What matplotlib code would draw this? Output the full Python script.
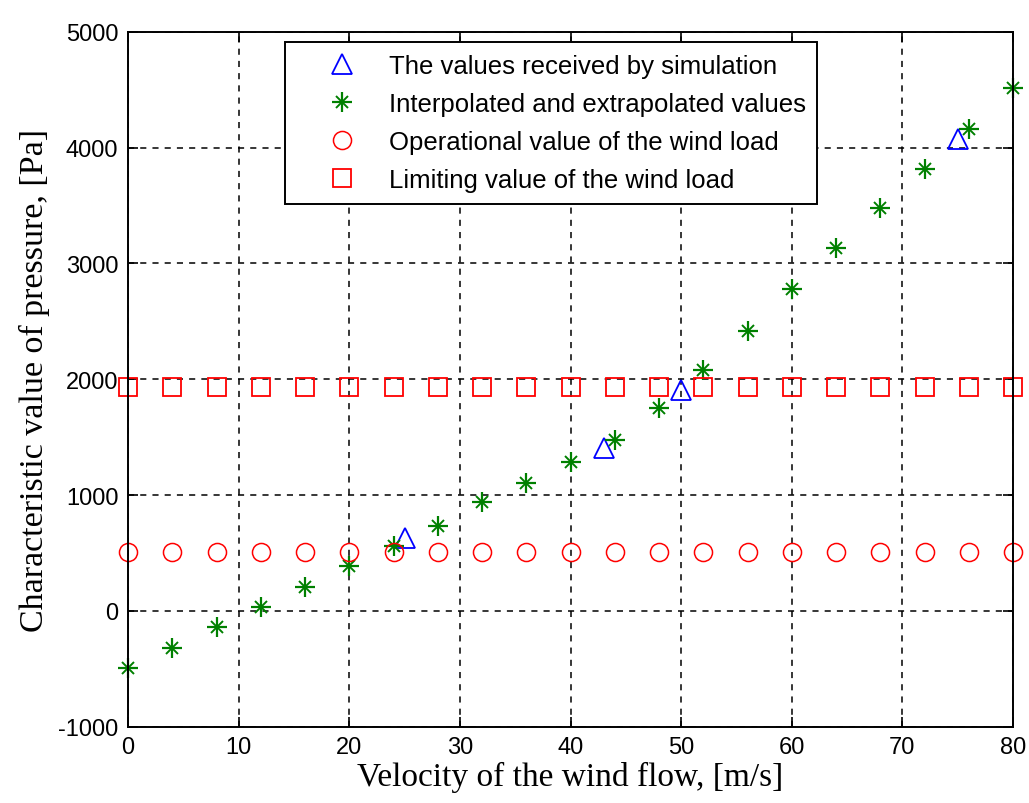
import matplotlib
matplotlib.use("Agg")
from matplotlib import pyplot as plt
from matplotlib.legend_handler import HandlerTuple

plt.rcParams["axes.unicode_minus"] = False

# simulated points
sim_x = [25, 43, 50, 75]
sim_y = [625, 1410, 1910, 4075]

# interpolated / extrapolated points
interp_x = [0, 4, 8, 12, 16, 20, 24, 28, 32, 36, 40, 44, 48, 52, 56, 60, 64, 68, 72, 76, 80]
interp_y = [-490, -320, -135, 35, 210, 390, 560, 735, 940, 1105, 1285,
            1475, 1755, 2080, 2420, 2780, 3130, 3475, 3815, 4160, 4510]

# wind load levels
load_x = interp_x
oper_y = [510, 510, 510, 510, 510, 510, 510, 510, 510, 510, 510,
          510, 510, 510, 510, 510, 510, 510, 510, 510, 510]
limit_y = [1930, 1930, 1930, 1930, 1930, 1930, 1930, 1930, 1930, 1930, 1930,
           1930, 1930, 1930, 1930, 1930, 1930, 1930, 1930, 1930, 1930]

x_ticks = [0, 10, 20, 30, 40, 50, 60, 70, 80]
y_ticks = [-1000, 0, 1000, 2000, 3000, 4000, 5000]

green = (0, 0.5, 0)

fig = plt.figure(figsize=(10.29, 8.04), dpi=100)
ax = fig.add_axes([0.1244, 0.0949, 0.8601, 0.8644])

h_sim, = ax.plot(sim_x, sim_y, "^", ms=14, mfc="none", mec="blue", mew=1.3, ls="none")
h_plus, = ax.plot(interp_x, interp_y, "+", ms=15, mec=green, mew=1.6, ls="none")
h_x, = ax.plot(interp_x, interp_y, "x", ms=8, mec=green, mew=1.4, ls="none")
h_oper, = ax.plot(load_x, oper_y, "o", ms=13, mfc="none", mec="red", mew=1.1, ls="none")
h_lim, = ax.plot(load_x, limit_y, "s", ms=13, mfc="none", mec="red", mew=1.3, ls="none")

for h in (h_sim, h_plus, h_x, h_oper, h_lim):
    h.set_clip_on(False)

ax.set_xlim(0, 80)
ax.set_ylim(-1000, 5000)
ax.set_xticks(x_ticks)
ax.set_yticks(y_ticks)
ax.grid(True, color="black", ls=(0, (4, 4)), lw=1.1)
ax.tick_params(direction="in", top=True, right=True, length=7, width=1.2,
               labelsize=17, pad=7)
for lbl in ax.get_xticklabels() + ax.get_yticklabels():
    lbl.set_family("Liberation Sans")
for sp in ax.spines.values():
    sp.set_linewidth(1.4)

ax.set_xlabel("Velocity of the wind flow, [m/s]", family="Liberation Serif",
              fontsize=24, labelpad=2)
ax.set_ylabel("Characteristic value of pressure, [Pa]", family="Liberation Serif",
              fontsize=24.5, labelpad=6)

leg = ax.legend([h_sim, (h_plus, h_x), h_oper, h_lim],
                ["The values received by simulation",
                 "Interpolated and extrapolated values",
                 "Operational value of the wind load",
                 "Limiting value of the wind load"],
                handler_map={tuple: HandlerTuple(ndivide=1, pad=0)},
                loc="upper left", bbox_to_anchor=(0.177, 0.985), borderaxespad=0,
                prop={"family": "Liberation Sans", "size": 18.5},
                fancybox=False, edgecolor="black", framealpha=1,
                handlelength=3.6, handletextpad=0.0, labelspacing=0.55,
                borderpad=0.45, markerscale=1.0)
leg.get_frame().set_linewidth(1.4)

fig.savefig("out.png", dpi=100)
